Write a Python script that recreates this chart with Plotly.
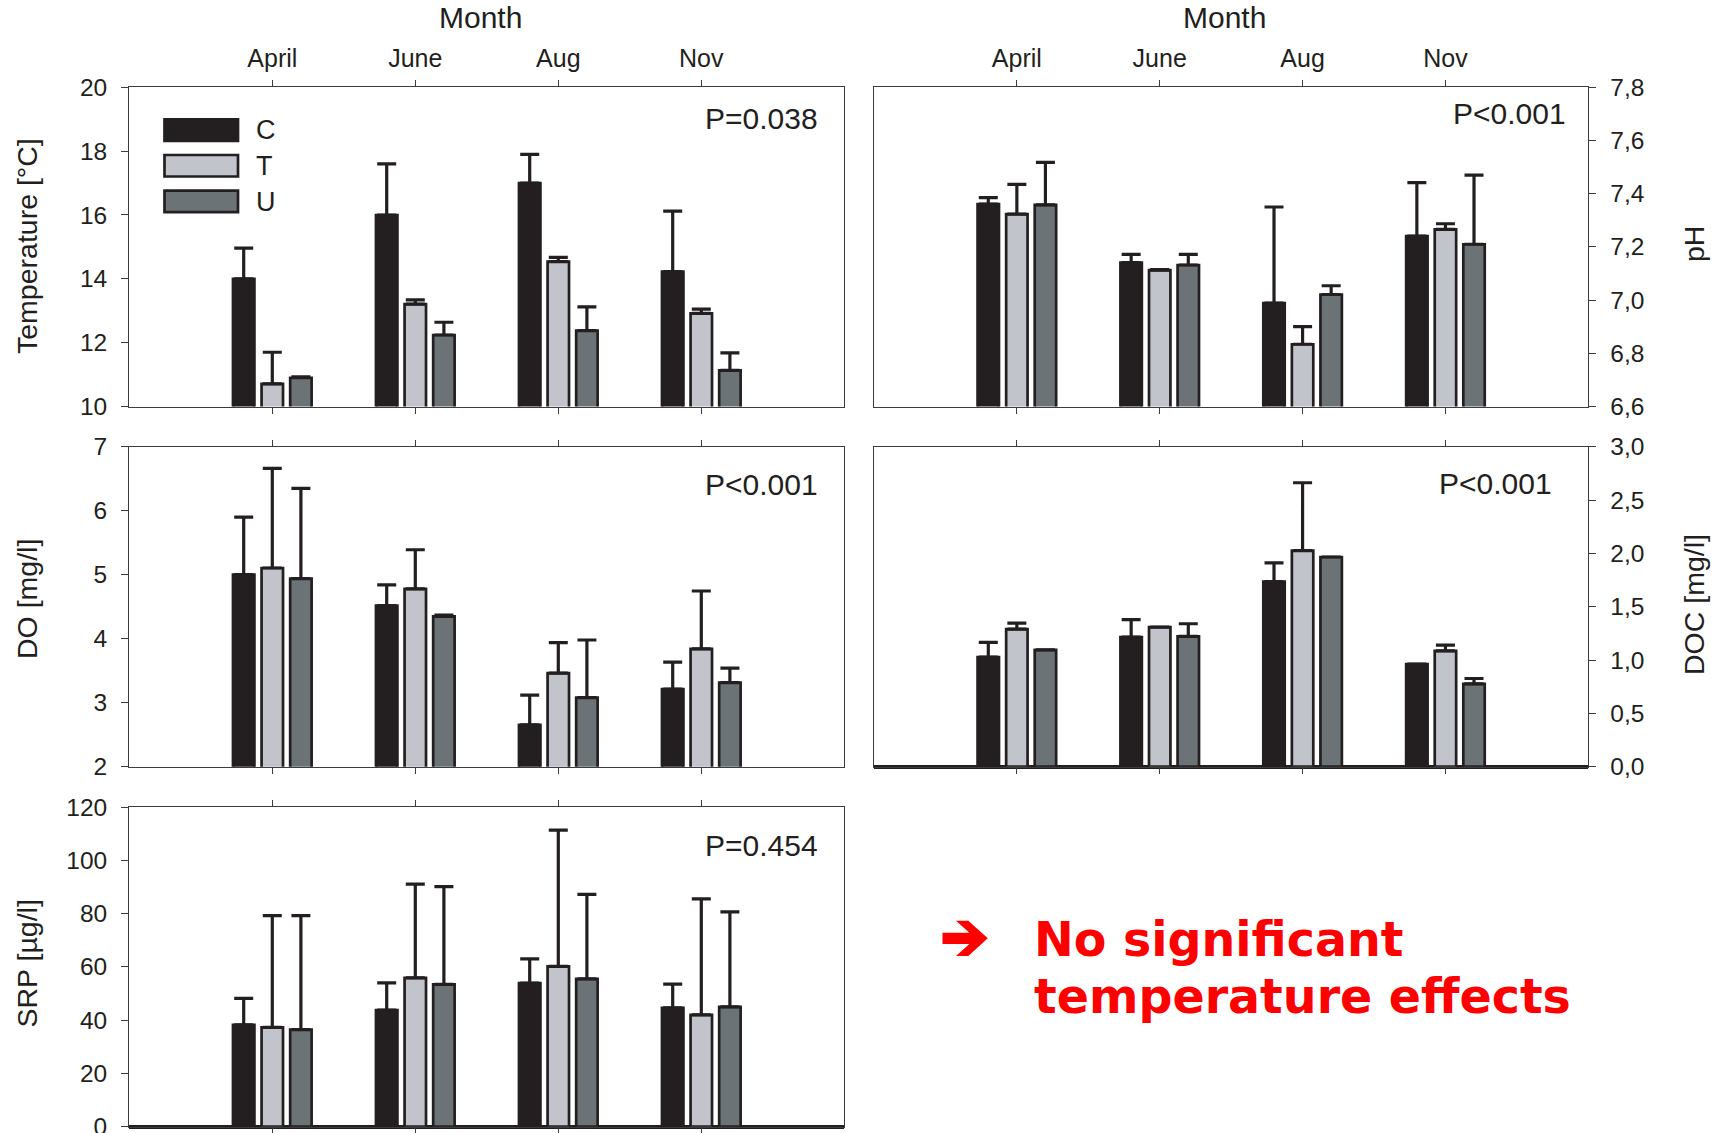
import plotly.graph_objects as go

# ---------------------------------------------------------------- data
months = ["April", "June", "Aug", "Nov"]
groups = ["C", "T", "U"]
group_colors = ["#231f20", "#c1c5cb", "#6c7376"]

# water temperature [°C]
temp_c = [14.0, 16.0, 17.0, 14.23]
temp_t = [10.71, 13.21, 14.54, 12.92]
temp_u = [10.9, 12.24, 12.38, 11.13]
temp_c_err = [0.96, 1.6, 0.9, 1.89]
temp_t_err = [0.99, 0.13, 0.13, 0.13]
temp_u_err = [0.03, 0.40, 0.74, 0.55]

# pH
ph_c = [7.361, 7.141, 6.989, 7.241]
ph_t = [7.323, 7.113, 6.834, 7.266]
ph_u = [7.358, 7.132, 7.021, 7.210]
ph_c_err = [0.024, 0.031, 0.361, 0.201]
ph_t_err = [0.112, 0.002, 0.066, 0.021]
ph_u_err = [0.160, 0.040, 0.033, 0.260]

# dissolved oxygen [mg/l]
do_c = [5.0, 4.516, 2.652, 3.211]
do_t = [5.105, 4.777, 3.461, 3.842]
do_u = [4.94, 4.349, 3.08, 3.315]
do_c_err = [0.90, 0.324, 0.465, 0.423]
do_t_err = [1.555, 0.613, 0.479, 0.903]
do_u_err = [1.41, 0.021, 0.90, 0.225]

# dissolved organic carbon [mg/l]
doc_c = [1.027, 1.215, 1.735, 0.961]
doc_t = [1.29, 1.309, 2.026, 1.086]
doc_u = [1.096, 1.221, 1.966, 0.777]
doc_c_err = [0.138, 0.163, 0.175, 0.0]
doc_t_err = [0.056, 0.0, 0.636, 0.054]
doc_u_err = [0.0, 0.119, 0.0, 0.05]

# soluble reactive phosphorus [µg/l]
srp_c = [38.2, 43.8, 53.9, 44.6]
srp_t = [37.3, 55.9, 60.2, 42.0]
srp_u = [36.4, 53.4, 55.5, 45.0]
srp_c_err = [10.0, 10.2, 9.1, 8.9]
srp_t_err = [42.0, 35.2, 51.2, 43.6]
srp_u_err = [42.9, 36.8, 31.8, 35.7]

p_values = ["P=0.038", "P<0.001", "P<0.001", "P<0.001", "P=0.454"]
y_titles = ["Temperature [°C]", "pH", "DO [mg/l]", "DOC [mg/l]", "SRP [µg/l]"]

# ---------------------------------------------------------------- layout helpers
W, H = 1723, 1133
FONT = "Liberation Sans, Arial, Helvetica, sans-serif"
INK = "#231f20"
LINE = "#3c3c3c"


def fx(px):
    return px / W


def fy(py):
    return 1 - py / H


col_px = [(129.3, 844.3), (874.0, 1588.3)]
row_px = [(87.3, 406.5), (446.7, 766.7), (807.3, 1126.5)]

# (means, errors, column, row, y range, y step, tick format, thick baseline,
#  P-label right edge / centre, axis-title centre)
panels = [
    ((temp_c, temp_t, temp_u), (temp_c_err, temp_t_err, temp_u_err), 0, 0,
     [10, 20], 2, None, False, (820, 118.7), (26.5, 246.5)),
    ((ph_c, ph_t, ph_u), (ph_c_err, ph_t_err, ph_u_err), 1, 0,
     [6.6, 7.8], 0.2, ".1f", False, (1568, 113.2), (1693.5, 244.5)),
    ((do_c, do_t, do_u), (do_c_err, do_t_err, do_u_err), 0, 1,
     [2, 7], 1, None, False, (820, 484.7), (26.5, 599.5)),
    ((doc_c, doc_t, doc_u), (doc_c_err, doc_t_err, doc_u_err), 1, 1,
     [0, 3], 0.5, ".1f", True, (1554, 483.6), (1693.5, 604.5)),
    ((srp_c, srp_t, srp_u), (srp_c_err, srp_t_err, srp_u_err), 0, 2,
     [0, 120], 20, None, True, (820, 845), (26.5, 964)),
]

fig = go.Figure()
annotations = []
shapes = []

for i, (means, errs, col, row, yr, dt, fmt, thick, p_pos, t_pos) in enumerate(panels):
    n = i + 1
    xname = "x" if n == 1 else f"x{n}"
    yname = "y" if n == 1 else f"y{n}"
    for g, m, e, c in zip(groups, means, errs, group_colors):
        fig.add_trace(go.Bar(
            x=months, y=m, name=g, showlegend=False,
            xaxis=xname, yaxis=yname,
            marker=dict(color=c, line=dict(color=INK, width=2.7)),
            error_y=dict(type="data", symmetric=False, array=e,
                         arrayminus=[0] * len(e), color=INK,
                         thickness=3.2, width=9.5),
        ))

    x0, x1 = col_px[col]
    y0, y1 = row_px[row]
    top = row == 0
    xaxis = dict(
        domain=[fx(x0), fx(x1)], anchor=yname, type="category",
        range=[-1, 4], side="top" if top else "bottom",
        showticklabels=top, ticks="outside", ticklen=6, tickwidth=1.3,
        tickcolor=LINE, showline=True, linecolor=LINE, linewidth=1.3,
        mirror="ticks", showgrid=False, zeroline=False, automargin=False,
        tickfont=dict(family=FONT, size=25, color=INK),
        ticklabelstandoff=3,
    )
    yaxis = dict(
        domain=[fy(y1), fy(y0)], anchor=xname, range=yr, dtick=dt,
        tick0=yr[0], side="left" if col == 0 else "right",
        ticks="outside", ticklen=7, tickwidth=1.3, tickcolor=LINE,
        showline=True, linecolor=LINE, linewidth=1.3, mirror=True,
        showgrid=False, zeroline=thick, zerolinecolor=INK, zerolinewidth=3.5,
        automargin=False, ticklabeloverflow="allow",
        tickfont=dict(family=FONT, size=24.5, color=INK),
        ticklabelstandoff=9,
    )
    if fmt:
        yaxis["tickformat"] = fmt
    fig.update_layout(**{("xaxis" if n == 1 else f"xaxis{n}"): xaxis,
                         ("yaxis" if n == 1 else f"yaxis{n}"): yaxis})

    # P value in the upper right corner of each panel
    annotations.append(dict(
        text=p_values[i], xref="paper", yref="paper",
        x=fx(p_pos[0]), y=fy(p_pos[1]),
        xanchor="right", yanchor="middle", showarrow=False,
        font=dict(family=FONT, size=30, color=INK),
    ))
    # axis title
    annotations.append(dict(
        text=y_titles[i], xref="paper", yref="paper",
        x=fx(t_pos[0]), y=fy(t_pos[1]),
        xanchor="center", yanchor="middle", textangle=-90, showarrow=False,
        font=dict(family=FONT, size=28.5, color=INK),
    ))

# "Month" headings over the two top panels
for xc in (480.3, 1224.8):
    annotations.append(dict(
        text="Month", xref="paper", yref="paper", x=fx(xc), y=fy(17),
        xanchor="center", yanchor="middle", showarrow=False,
        font=dict(family=FONT, size=30, color=INK),
    ))

# legend drawn inside the temperature panel
legend_tops = [118.3, 154.0, 189.7]
for g, c, t in zip(groups, group_colors, legend_tops):
    shapes.append(dict(
        type="rect", xref="paper", yref="paper",
        x0=fx(164.5), x1=fx(238), y0=fy(t + 22.5), y1=fy(t + 1),
        fillcolor=c, line=dict(color=INK, width=2.7), layer="above",
    ))
    annotations.append(dict(
        text=g, xref="paper", yref="paper", x=fx(254), y=fy(t + 12),
        xanchor="left", yanchor="middle", showarrow=False,
        font=dict(family=FONT, size=27, color=INK),
    ))

# conclusion: bold arrow followed by two lines of red text
RED = "#ff0000"
BOLD = "DejaVu Sans, Verdana, sans-serif"
arrow_pts = [
    (956.0, 920.7), (968.3, 920.7), (987.8, 938.3), (968.3, 956.0),
    (956.0, 956.0), (969.4, 944.0), (942.5, 944.0), (942.5, 932.7),
    (969.4, 932.7),
]
arrow_path = "M " + " L ".join(f"{fx(x):.5f},{fy(y):.5f}" for x, y in arrow_pts) + " Z"
shapes.append(dict(
    type="path", xref="paper", yref="paper", path=arrow_path,
    fillcolor=RED, line=dict(width=0), layer="above",
))
annotations.append(dict(
    text="<b>No significant</b>", xref="paper", yref="paper", x=fx(1032), y=fy(939.5),
    xanchor="left", yanchor="middle", showarrow=False,
    font=dict(family=BOLD, size=47.5, color=RED),
))
annotations.append(dict(
    text="<b>temperature effects</b>", xref="paper", yref="paper", x=fx(1032), y=fy(996.5),
    xanchor="left", yanchor="middle", showarrow=False,
    font=dict(family=BOLD, size=47.5, color=RED),
))

fig.update_layout(
    width=W, height=H, autosize=False,
    margin=dict(l=0, r=0, t=0, b=0, pad=0, autoexpand=False),
    paper_bgcolor="white", plot_bgcolor="white",
    barmode="group", bargap=0.4, bargroupgap=0.25,
    separators=",.",
    showlegend=False,
    font=dict(family=FONT, color=INK),
    annotations=annotations, shapes=shapes,
)

fig.write_html("out.html")
